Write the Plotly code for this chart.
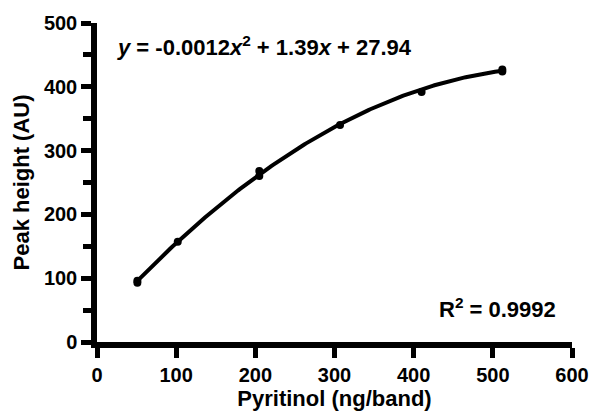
import numpy as np
import plotly.graph_objects as go

# Data
conc = [51, 51, 102, 205, 205, 307, 410, 512, 512]          # Pyritinol (ng/band)
peak = [93, 96, 157, 260, 268, 340, 392, 424, 427]          # Peak height (AU)

# Displayed quadratic fit coefficients
coef_a, coef_b, coef_c = -0.0012, 1.39, 27.94
fit_x = np.linspace(51, 512, 200)
fit_y = coef_a * fit_x**2 + coef_b * fit_x + coef_c

eq_text = "<i>y</i> = -0.0012<i>x</i><sup>2</sup> + 1.39<i>x</i> + 27.94"
r2_text = "R<sup>2</sup> = 0.9992"

FONT = "Liberation Sans, Arial, sans-serif"

fig = go.Figure()
fig.add_trace(go.Scatter(x=fit_x, y=fit_y, mode="lines",
                         line=dict(color="black", width=4), hoverinfo="skip"))
fig.add_trace(go.Scatter(x=conc, y=peak, mode="markers",
                         marker=dict(color="black", size=8)))

axis_common = dict(showline=True, linecolor="black", linewidth=5.5,
                   ticks="outside", tickcolor="black", tickwidth=5, ticklen=10,
                   showgrid=False, zeroline=False, automargin=False,
                   tickfont=dict(family=FONT, size=20, color="black", weight="bold"))

fig.update_xaxes(range=[0, 600], tickvals=[0, 100, 200, 300, 400, 500, 600],
                 title=dict(text="<b>Pyritinol (ng/band)</b>", standoff=8,
                            font=dict(family=FONT, size=22, color="black")),
                 **axis_common)
fig.update_yaxes(range=[0, 500], tickvals=[0, 100, 200, 300, 400, 500],
                 minor=dict(tickvals=[50, 150, 250, 350, 450], ticks="outside",
                            ticklen=8, tickwidth=5, tickcolor="black"),
                 title=dict(text="<b>Peak height (AU)</b>", standoff=10,
                            font=dict(family=FONT, size=22, color="black")),
                 **axis_common)

fig.add_annotation(x=0.038, y=0.978, xref="paper", yref="paper", xanchor="left", yanchor="top",
                   text="<b>" + eq_text + "</b>", showarrow=False,
                   font=dict(family=FONT, size=22, color="black"))
fig.add_annotation(x=0.97, y=0.055, xref="paper", yref="paper", xanchor="right", yanchor="bottom",
                   text="<b>" + r2_text + "</b>", showarrow=False,
                   font=dict(family=FONT, size=22, color="black"))

fig.update_layout(width=589, height=415, showlegend=False,
                  plot_bgcolor="white", paper_bgcolor="white",
                  margin=dict(l=97, r=17, t=23, b=73))

fig.write_html("out.html", config={"displayModeBar": False},
               post_script="document.body.style.margin='0';document.body.style.overflow='hidden';")
